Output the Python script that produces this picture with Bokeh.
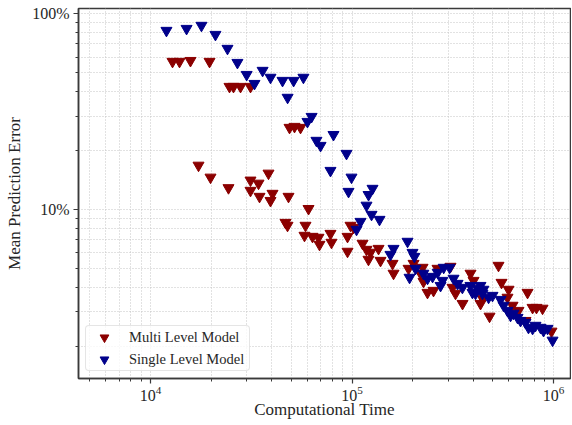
from bokeh.plotting import figure
from bokeh.models import Range1d, PrintfTickFormatter, Legend, LegendItem, FixedTicker
from bokeh.embed import file_html
from bokeh.resources import INLINE

series_names = ["Multi Level Model", "Single Level Model"]
series_colors = ["#8b0000", "#00008b"]

multi_time = [1.286e4, 1.393e4, 1.579e4, 1.963e4, 2.466e4, 2.581e4, 2.797e4, 3.135e4, 4.896e4, 5.183e4,
              5.552e4, 1.731e4, 1.985e4, 2.438e4, 3.135e4, 3.436e4, 3.851e4, 3.135e4, 3.475e4, 4.032e4,
              3.94e4, 4.84e4, 6.083e4, 4.677e4, 4.786e4, 5.877e4, 5.81e4, 6.368e4, 6.818e4, 6.897e4,
              7.82e4, 7.91e4, 9.50e4, 9.83e4, 1.017e5, 9.50e4, 1.128e5, 1.180e5, 1.235e5, 1.207e5,
              1.354e5, 1.385e5, 1.589e5, 1.607e5, 1.908e5, 2.02e5, 2.239e5, 2.188e5, 2.263e5, 2.369e5,
              2.538e5, 2.656e5, 3.082e5, 3.153e5, 3.263e5, 3.535e5, 3.873e5, 4.009e5, 4.343e5, 4.443e5,
              4.813e5, 5.333e5, 5.52e5, 5.98e5, 5.91e5, 6.26e5, 6.70e5, 7.43e5, 7.26e5, 7.87e5,
              8.23e5, 8.82e5, 9.77e5]
multi_err = [56.9, 56.9, 57.5, 56.9, 42.4, 42.4, 42.4, 42.4, 26.2, 26.5,
             26.2, 16.8, 14.6, 12.9, 14.1, 13.6, 15.3, 12.5, 11.65, 12.07,
             11.1, 11.65, 10.1, 8.58, 8.29, 8.29, 7.37, 7.28, 7.2, 6.63,
             7.54, 6.79, 7.28, 8.29, 8.09, 6.11, 6.71, 6.25, 6.04, 5.56,
             6.32, 5.49, 5.30, 4.72, 5.0, 5.30, 5.06, 4.72, 4.29, 3.77,
             3.86, 5.0, 5.12, 4.0, 3.73, 3.31, 4.72, 4.34, 3.31, 3.52,
             2.85, 5.18, 4.24, 3.91, 3.56, 3.24, 3.05, 3.77, 2.71, 3.16,
             3.16, 3.13, 2.39]

single_time = [1.20e4, 1.51e4, 1.79e4, 2.10e4, 2.41e4, 2.70e4, 3.00e4, 3.28e4, 3.60e4, 3.94e4,
               4.52e4, 5.13e4, 5.74e4, 4.79e4, 6.30e4, 6.01e4, 6.66e4, 6.98e4, 8.09e4, 9.39e4,
               7.82e4, 9.94e4, 9.61e4, 1.208e5, 1.264e5, 1.18e5, 1.25e5, 1.369e5, 1.102e5, 1.053e5,
               1.886e5, 1.607e5, 1.552e5, 1.996e5, 2.04e5, 2.066e5, 1.93e5, 2.26e5, 2.37e5, 2.51e5,
               2.66e5, 2.85e5, 3.05e5, 2.75e5, 2.81e5, 3.19e5, 3.53e5, 3.34e5, 3.87e5, 3.96e5,
               4.20e5, 4.34e5, 4.44e5, 4.10e5, 4.49e5, 4.76e5, 4.98e5, 5.46e5, 5.65e5, 5.91e5,
               6.12e5, 6.33e5, 6.63e5, 6.86e5, 7.26e5, 7.51e5, 7.87e5, 8.14e5, 8.62e5, 8.92e5,
               9.34e5, 9.89e5]
single_err = [81.9, 83.8, 86.9, 78.1, 66.3, 56.2, 48.8, 43.9, 51.2, 47.2,
              45.5, 45.5, 47.2, 37.3, 29.8, 28.1, 22.5, 21.2, 24.1, 19.3,
              15.8, 14.6, 12.35, 11.9, 12.8, 10.5, 9.43, 8.89, 8.68, 7.91,
              6.87, 6.32, 5.89, 6.03, 5.75, 5.0, 4.50, 4.72, 4.45, 4.55,
              4.77, 5.06, 5.06, 4.09, 4.34, 4.45, 4.0, 4.19, 4.09, 3.77,
              3.95, 4.09, 3.73, 3.73, 3.91, 3.56, 3.64, 3.47, 3.24, 3.05,
              2.88, 2.95, 2.81, 2.71, 2.65, 2.50, 2.47, 2.56, 2.50, 2.41,
              2.47, 2.15]

x_major_ticks = [1e4, 1e5, 1e6]
x_minor_ticks = [m * 10 ** k for k in (3, 4, 5) for m in range(2, 10)]
y_major_ticks = [10, 100]
y_minor_ticks = [m * 10 ** k for k in (0, 1) for m in range(2, 10)]

x_limits = (4392, 1.214e6)
y_limits = (1.373, 106.1)

FONT = "Liberation Serif"
INK = "#262626"
SPINE = "#3a3a3a"
GRID = "#c4c4c4"

p = figure(width=571, height=425, x_axis_type="log", y_axis_type="log",
           x_range=Range1d(*x_limits), y_range=Range1d(*y_limits),
           output_backend="svg", toolbar_location=None,
           min_border_left=78, min_border_right=1, min_border_top=8, min_border_bottom=47,
           background_fill_color="white", border_fill_color="white")

p.outline_line_color = SPINE
p.outline_line_width = 1.5
p.outline_line_alpha = 1.0

p.xaxis.ticker = FixedTicker(ticks=x_major_ticks, minor_ticks=x_minor_ticks)
p.yaxis.ticker = FixedTicker(ticks=y_major_ticks, minor_ticks=y_minor_ticks)

for g in (p.xgrid, p.ygrid):
    g.grid_line_color = GRID
    g.grid_line_dash = "1 2"
    g.grid_line_width = 1
    g.minor_grid_line_color = GRID
    g.minor_grid_line_dash = "1 2"
    g.minor_grid_line_width = 1

for ax in (p.xaxis, p.yaxis):
    ax.axis_line_color = SPINE
    ax.axis_line_width = 1.5
    ax.major_tick_line_color = SPINE
    ax.minor_tick_line_color = SPINE
    ax.major_tick_line_width = 1.2
    ax.minor_tick_line_width = 1
    ax.major_tick_out = 5
    ax.major_tick_in = 0
    ax.minor_tick_out = 3
    ax.minor_tick_in = 0
    ax.major_label_text_font = FONT
    ax.major_label_text_font_size = "16px"
    ax.major_label_text_color = INK
    ax.axis_label_text_font = FONT
    ax.axis_label_text_font_size = "17px"
    ax.axis_label_text_font_style = "normal"
    ax.axis_label_text_color = INK

p.xaxis.axis_label = "Computational Time"
p.yaxis.axis_label = "Mean Prediction Error"
p.xaxis.major_label_standoff = 2
p.yaxis.major_label_standoff = 4
p.xaxis.axis_label_standoff = -4
p.yaxis.axis_label_standoff = 5
p.yaxis.formatter = PrintfTickFormatter(format="%d%%")

r_multi = p.scatter(multi_time, multi_err, marker="inverted_triangle", size=11,
                    fill_color=series_colors[0], line_color=series_colors[0])
r_single = p.scatter(single_time, single_err, marker="inverted_triangle", size=11,
                     fill_color=series_colors[1], line_color=series_colors[1])

legend = Legend(items=[LegendItem(label=series_names[0], renderers=[r_multi]),
                       LegendItem(label=series_names[1], renderers=[r_single])],
                location="bottom_left", margin=7, padding=0, spacing=0,
                glyph_width=36, glyph_height=22, label_height=16, label_standoff=7,
                label_width=120,
                label_text_font=FONT, label_text_font_size="14.5px", label_text_color=INK,
                border_line_color="#cccccc", border_line_width=1,
                background_fill_color="white", background_fill_alpha=0.8)
if "border_radius" in Legend.properties():
    legend.border_radius = 4
p.add_layout(legend)

open("out.html", "w").write(file_html(p, INLINE))
